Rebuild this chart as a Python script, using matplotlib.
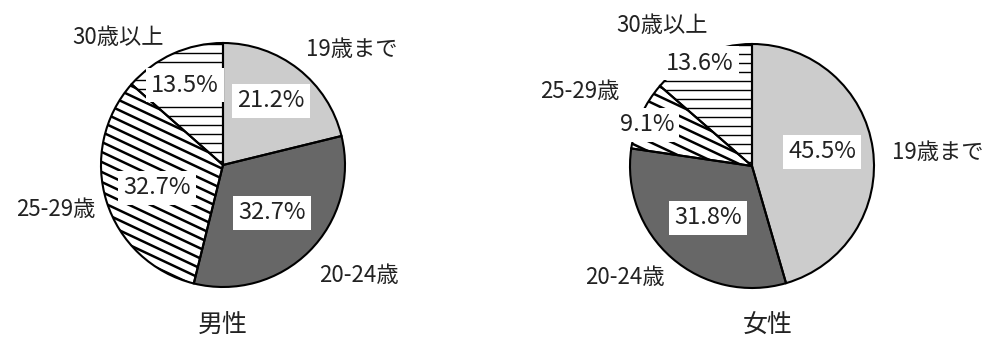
import numpy as np
import matplotlib
matplotlib.use("Agg")
import matplotlib.pyplot as plt
from matplotlib.collections import LineCollection

plt.rcParams['font.family'] = ['Noto Sans CJK JP', 'DejaVu Sans']

categories = ['19歳まで', '20-24歳', '25-29歳', '30歳以上']
male = [21.2, 32.7, 32.7, 13.5]
female = [45.5, 31.8, 9.1, 13.6]
titles = ['男性', '女性']

colors = ['#cccccc', '#676767', 'white', 'white']
hatches = [None, None, 'diag', 'horiz']

W, H = 987, 343
fig = plt.figure(figsize=(W / 100, H / 100), dpi=100)
ax = fig.add_axes([0, 0, 1, 1])

# layout in pixel coords (x, y from top)
centers = [(223, 165), (752, 166)]
radius = 122
title_pos = [(223, 326), (768, 326)]
pct_pos = [
    [(271, 101), (272, 213), (157, 188), (185, 85)],
    [(822, 152), (708, 218), (647, 125), (700, 63)],
]
cat_pos = [
    [(352, 50), (359, 275), (56, 210), (118, 37)],
    [(938, 153), (625, 278), (580, 92), (662, 25)],
]


def hatch_lines(kind, cx, cy, r):
    segs = []
    if kind == 'horiz':
        for y in np.arange(cy - r, cy + r, 9):
            segs.append([(cx - r, y), (cx + r, y)])
    else:
        s = -0.47
        for y0 in np.arange(cy - 2 * r, cy + 2 * r, 10):
            segs.append([(cx - r, y0 - s * r), (cx + r, y0 + s * r)])
    return segs


for i, vals in enumerate([male, female]):
    cx, cy = centers[i]
    cy = H - cy
    wedges, _ = ax.pie(vals, colors=colors, center=(cx, cy), radius=radius,
                       startangle=90, counterclock=False,
                       wedgeprops=dict(linewidth=0), frame=True)
    for w, h in zip(wedges, hatches):
        if h is None:
            continue
        lw = 1.8 if h == 'diag' else 1.0
        lc = LineCollection(hatch_lines(h, cx, cy, radius), colors='black',
                            linewidths=lw, zorder=2)
        ax.add_collection(lc)
        lc.set_clip_path(w)
    ax.pie(vals, center=(cx, cy), radius=radius, startangle=90,
           counterclock=False, frame=True,
           wedgeprops=dict(fill=False, edgecolor='black', linewidth=1.5,
                           zorder=3))

    for v, (px, py) in zip(vals, pct_pos[i]):
        ax.text(px, H - py, f'{v:.1f}%', ha='center', va='center',
                fontsize=17, color='#222222', zorder=5,
                bbox=dict(boxstyle='square,pad=0.22', facecolor='white',
                          edgecolor='none'))
    for c, (px, py) in zip(categories, cat_pos[i]):
        ax.text(px, H - py, c, ha='center', va='center', fontsize=16,
                color='#222222', zorder=5)
    tx, ty = title_pos[i]
    ax.text(tx, H - ty, titles[i], ha='center', va='center', fontsize=18,
            color='#222222')

ax.set_xlim(0, W)
ax.set_ylim(0, H)
ax.set_aspect('equal')
ax.axis('off')
fig.savefig('out.png', dpi=100)
